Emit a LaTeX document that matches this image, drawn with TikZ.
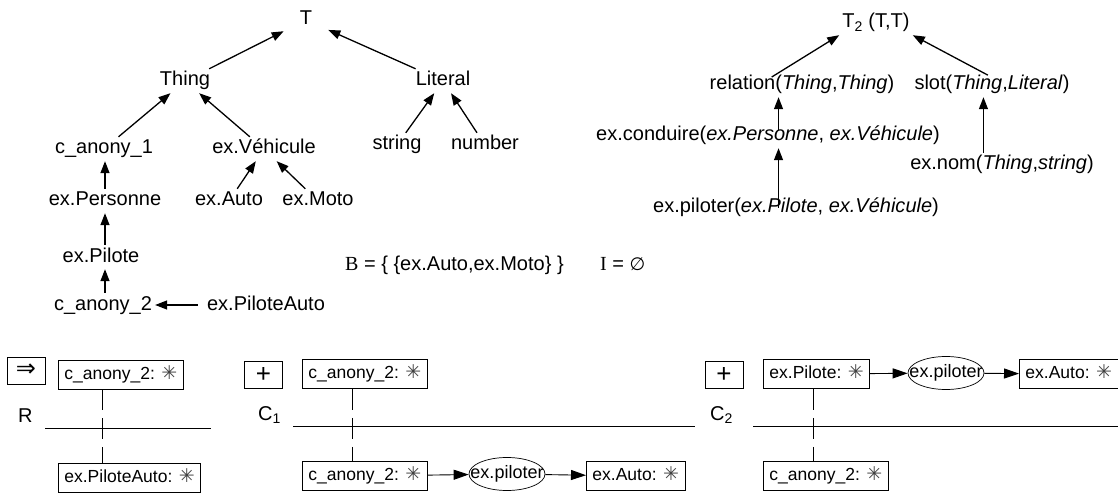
\documentclass[tikz,border=0pt]{standalone}
\usepackage{fontspec}
\setmainfont{Liberation Sans}
\newfontfamily\serf{Liberation Serif}
\newfontfamily\djv{DejaVu Sans}
\usetikzlibrary{arrows.meta,shapes.geometric,calc}
\newcommand{\astk}{{\color{black!75}\djv\fontsize{19}{19}\selectfont ✳}}
\begin{document}
\begin{tikzpicture}[x=1pt,y=-1pt,
  tl/.style={anchor=base, inner sep=3pt, text height=14pt, text depth=4pt, font=\fontsize{20}{24}\selectfont},
  arr/.style={-{Triangle[length=12pt,width=9pt]}, line width=1.3pt},
  bx/.style={draw, line width=0.8pt, inner xsep=6pt, inner ysep=0pt, minimum height=29pt, text height=13pt, text depth=4pt, font=\fontsize{17.5}{21}\selectfont},
  op/.style={draw, line width=0.8pt, inner sep=0pt, minimum width=38pt, minimum height=27pt, font=\fontsize{26}{28}\selectfont},
  rl/.style={draw, ellipse, line width=0.7pt, inner sep=0pt, minimum width=76pt, minimum height=33pt, font=\fontsize{18}{21}\selectfont},
  barr/.style={-{Triangle[length=15pt,width=10pt]}, line width=0.9pt},
  sep/.style={line width=1pt},
  dsh/.style={line width=0.8pt, dash pattern=on 21pt off 8pt},
  lab/.style={anchor=base west, inner sep=0pt, font=\fontsize{20}{24}\selectfont}
]
\useasboundingbox (0,0) rectangle (1118,494);

% left tree
\node[tl, inner xsep=16pt] (T) at (306,25) {T};
\node[tl] (thing) at (185,86) {Thing};
\node[tl] (lit) at (443,86) {Literal};
\node[tl] (c1) at (104,154) {c\_anony\_1};
\node[tl] (veh) at (264,154) {ex.Véhicule};
\node[tl] (str) at (397,150) {string};
\node[tl] (num) at (485,150) {number};
\node[tl] (pers) at (105,206) {ex.Personne};
\node[tl] (auto) at (229,206) {ex.Auto};
\node[tl] (moto) at (318,206) {ex.Moto};
\node[tl] (pil) at (101,262) {ex.Pilote};
\node[tl] (ca2) at (103,310) {c\_anony\_2};
\node[tl] (pa) at (266,310) {ex.PiloteAuto};

\draw[arr] (thing) -- (T);
\draw[arr] (lit) -- (T);
\draw[arr] (c1) -- (thing);
\draw[arr] (veh) -- (thing);
\draw[arr] (str) -- (lit);
\draw[arr] (num) -- (lit);
\draw[arr] (auto) -- (veh);
\draw[arr] (moto) -- (veh);
\draw[arr] (pers.north) -- (pers.north |- c1.south);
\draw[arr] (pers.south |- pil.north) -- (pers.south);
\draw[arr] (pers.south |- ca2.north) -- (pers.south |- pil.south);
\draw[arr, shorten <=6pt] (pa.west) -- (pa.west -| ca2.east);

\node[lab] (B) at (345,270) {{\serf B} = \{ \{ex.Auto,ex.Moto\} \}};
\node[lab] (I) at (600,270) {{\serf I} = {\djv\fontsize{18}{20}\selectfont ∅}};

% right tree
\node[tl] (t2) at (876,28) {T\textsubscript{2} (T,T)};
\node[tl] (rel) at (802,90) {relation(\textit{Thing},\textit{Thing})};
\node[tl] (slot) at (992,90) {slot(\textit{Thing},\textit{Literal})};
\node[tl] (cond) at (768,141) {ex.conduire(\textit{ex.Personne}, \textit{ex.Véhicule})};
\node[tl] (nom) at (1002,170) {ex.nom(\textit{Thing},\textit{string})};
\node[tl] (pilr) at (796,213) {ex.piloter(\textit{ex.Pilote}, \textit{ex.Véhicule})};

\coordinate (ra) at ($(rel.south west)!0.377!(rel.south east)$);
\coordinate (sa) at ($(slot.south west)!0.447!(slot.south east)$);
\draw[arr, shorten <=-8pt] (ra |- rel.north) -- (t2.south west);
\draw[arr, shorten <=-5pt] (sa |- slot.north) -- (t2.south east);
\draw[arr, shorten <=-6pt] (ra |- cond.north) -- (ra);
\draw[arr, shorten <=-12pt] (ra |- pilr.north) -- (ra |- cond.south);
\draw[arr] (sa |- nom.north) -- (sa);

% R
\node[op] (impl) at (26,370.5) {\djv\fontsize{24}{24}\selectfont ⇒};
\node[bx, anchor=west] (rt) at (58,374.5) {c\_anony\_2: \astk};
\node[bx, anchor=west] (rb) at (58,477.5) {ex.PiloteAuto: \astk};
\node[lab] (R) at (18,422) {R};
\draw[sep] (45,428) -- (211,428);
\coordinate (rd) at ($(rt.south west)+(44,0)$);
\draw[dsh] (rd) -- (rd |- rb.north);

% C1
\node[op] (plus1) at (263.5,375) {+};
\node[lab] (C1) at (258,420) {C\textsubscript{1}};
\draw[sep] (293,426) -- (695,426);
\node[bx, anchor=west] (c1t) at (302,374) {c\_anony\_2: \astk};
\node[bx, anchor=west] (c1b) at (302,476) {c\_anony\_2: \astk};
\node[rl] (c1r) at (507,474) {\makebox[0pt]{ex.piloter}};
\node[bx, anchor=west] (c1a) at (586,476) {ex.Auto: \astk};
\draw[barr] (c1b) -- (c1r);
\draw[barr] (c1r) -- (c1a);
\coordinate (c1d) at ($(c1t.south west)+(50,0)$);
\draw[dsh] (c1d) -- (c1d |- c1b.north);

% C2
\node[op] (plus2) at (724,375) {+};
\node[lab] (C2) at (710,420) {C\textsubscript{2}};
\draw[sep] (753,426) -- (1118,426);
\node[bx, anchor=west] (c2t) at (763,374) {ex.Pilote: \astk};
\node[rl] (c2r) at (946,373) {\makebox[0pt]{ex.piloter}};
\node[bx, anchor=west] (c2a) at (1019,374) {ex.Auto: \astk};
\node[bx, anchor=west] (c2b) at (763,476) {c\_anony\_2: \astk};
\draw[barr] (c2t) -- (c2r);
\draw[barr] (c2r) -- (c2a);
\coordinate (c2d) at ($(c2t.south west)+(50,0)$);
\draw[dsh] (c2d) -- (c2d |- c2b.north);
\end{tikzpicture}
\end{document}
